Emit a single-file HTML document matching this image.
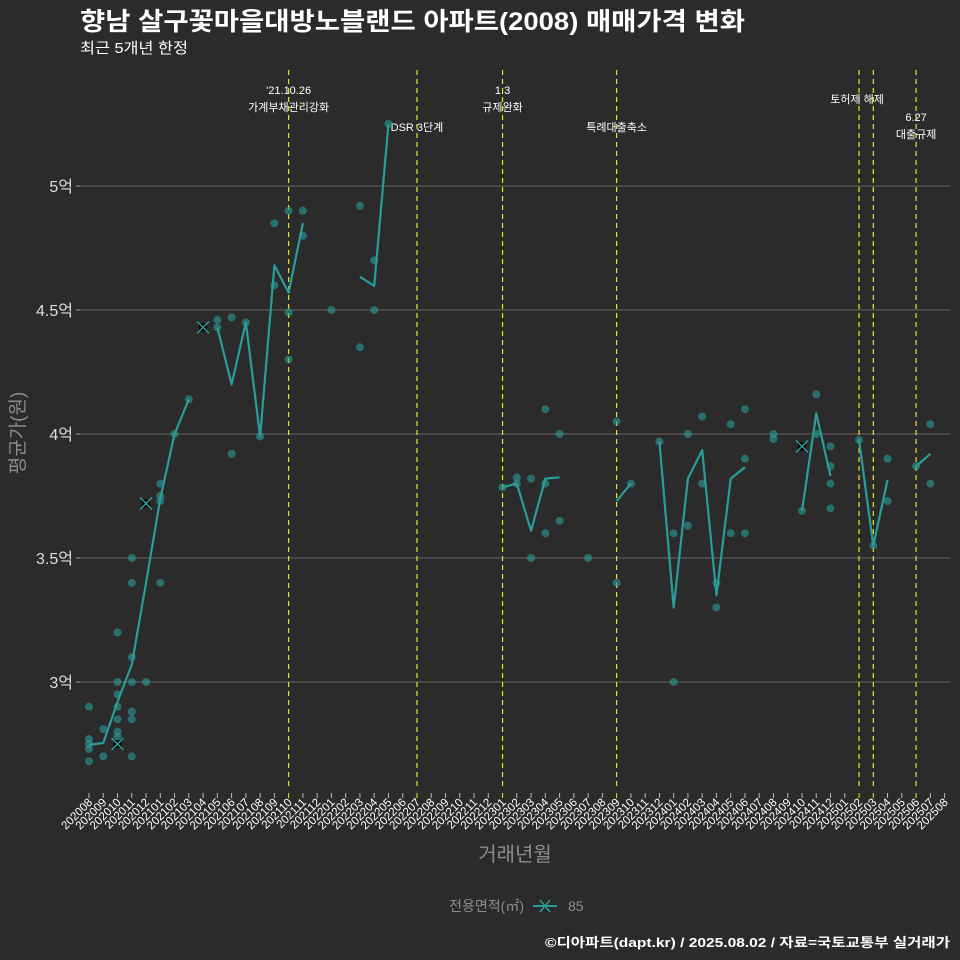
<!DOCTYPE html>
<html><head><meta charset="utf-8">
<style>
html,body{margin:0;padding:0;background:#2b2b2b;}
svg{display:block;font-family:"Liberation Sans","Noto Sans CJK KR",sans-serif;}
</style></head>
<body>
<svg id="chart" width="960" height="960" xmlns="http://www.w3.org/2000/svg">
<rect width="960" height="960" fill="#2b2b2b"/>
<text x="80" y="30" fill="#ffffff" font-size="25" font-weight="bold" textLength="665" lengthAdjust="spacingAndGlyphs">향남 살구꽃마을대방노블랜드 아파트(2008) 매매가격 변화</text>
<text x="80" y="53" fill="#ffffff" font-size="15" textLength="108" lengthAdjust="spacingAndGlyphs">최근 5개년 한정</text>
<g id="grid"></g>
<g id="vlines"></g>
<g id="series"></g>
<g id="xaxis"></g>
<text x="0" y="0" transform="translate(24,433) rotate(-90)" text-anchor="middle" fill="#8c8c8c" font-size="19">평균가(원)</text>
<text x="515" y="861" text-anchor="middle" fill="#8c8c8c" font-size="20">거래년월</text>
<g>
<text x="524" y="911" text-anchor="end" fill="#8c8c8c" font-size="14">전용면적(㎡)</text>
<line x1="533" y1="906" x2="557" y2="906" stroke="#2a9d9a" stroke-width="2"/>
<path d="M540 900 L550 912 M550 900 L540 912" stroke="#2a9d9a" stroke-width="1.5"/>
<text x="568" y="911" fill="#8c8c8c" font-size="14">85</text>
</g>
<text x="950" y="947" text-anchor="end" fill="#ffffff" font-size="13" font-weight="bold" textLength="405" lengthAdjust="spacingAndGlyphs">©디아파트(dapt.kr) / 2025.08.02 / 자료=국토교통부 실거래가</text>
</svg>
<script>
const months = [];
for (let y = 2020, m = 8; months.length < 61; ) { months.push(String(y) + String(m).padStart(2, '0')); m++; if (m > 12) { m = 1; y++; } }
const yTicks = [3, 3.5, 4, 4.5, 5];
const yTickLabels = ['3억', '3.5억', '4억', '4.5억', '5억'];
// mean line per month index (null = gap)
const lineIdx = [0,1,2,3,4,5,6,7,null,9,10,11,12,13,14,15,null,null,null,19,20,21,null,null,null,null,null,null,null,29,30,31,32,33,null,null,null,37,38,null,40,41,42,43,44,45,46,null,null,null,50,51,52,null,54,55,56,null,58,59];
const lineVal = [2.747,2.754,2.92,3.07,3.40,3.74,4.00,4.14,null,4.43,4.20,4.45,3.99,4.68,4.57,4.85,null,null,null,4.634,4.597,5.25,null,null,null,null,null,null,null,3.785,3.80,3.61,3.82,3.825,null,null,null,3.73,3.80,null,3.97,3.30,3.82,3.935,3.35,3.82,3.866,null,null,null,3.69,4.083,3.83,null,3.976,3.55,3.815,null,3.87,3.92];
const ptIdx = [0,0,0,0,0,1,1,2,2,2,2,2,2,2,3,3,3,3,3,3,3,4,5,5,5,5,6,7,9,9,10,10,11,12,13,13,14,14,14,15,15,17,19,19,20,20,21,29,30,30,31,31,32,32,32,33,33,35,37,37,38,40,41,41,42,42,43,43,44,44,45,45,46,46,46,48,48,50,51,51,52,52,52,52,54,55,56,56,58,59,59];
const ptVal = [2.90,2.77,2.75,2.73,2.68,2.81,2.70,3.20,3.00,2.95,2.90,2.85,2.80,2.78,3.50,3.40,3.10,3.00,2.88,2.85,2.70,3.00,3.80,3.75,3.73,3.40,4.00,4.14,4.46,4.43,4.47,3.92,4.45,3.99,4.85,4.60,4.90,4.49,4.30,4.90,4.80,4.50,4.92,4.35,4.70,4.50,5.25,3.785,3.825,3.80,3.82,3.50,4.10,3.80,3.60,4.00,3.65,3.50,4.05,3.40,3.80,3.97,3.60,3.00,4.00,3.63,4.07,3.80,3.30,3.40,4.04,3.60,4.10,3.90,3.60,4.00,3.98,3.69,4.16,4.00,3.95,3.87,3.80,3.70,3.976,3.55,3.90,3.73,3.87,4.04,3.80];
const xIdx = [2,4,8,50];
const xVal = [2.75,3.72,4.43,3.95];
const eventIdx = [14,23,29,37,54,55,58];
const eventLabels = [["'21.10.26","가계부채관리강화"],["DSR 3단계"],["1.3","규제완화"],["특례대출축소"],["토허제 해제"],[],["6.27","대출규제"]];
const eventLabelY = [[94,111],[131],[94,111],[131],[103],[],[121,138]];
const eventLabelDx = [0,0,0,0,-2,0,0];

const NS = 'http://www.w3.org/2000/svg';
const X = i => 89 + i * 14.26;
const Y = v => 186 + (5 - v) * 248;
function mk(tag, attrs, parent) { const e = document.createElementNS(NS, tag); for (const k in attrs) e.setAttribute(k, attrs[k]); parent.appendChild(e); return e; }
const grid = document.getElementById('grid');
yTicks.forEach((v, k) => {
  const l = mk('line', {x1: 80, x2: 950, y1: Y(v), y2: Y(v), stroke: '#666', 'stroke-width': 1}, grid);
  
  
  const t = mk('line', {x1: 76, x2: 80, y1: Y(v), y2: Y(v), stroke: '#999'}, grid);
  
  
  const tx = mk('text', {x: 73, y: Y(v) + 6, 'text-anchor': 'end', fill: '#dddddd', 'font-size': 16}, grid);
  tx.textContent = yTickLabels[k];
  
  
});
const vl = document.getElementById('vlines');
eventIdx.forEach((i, k) => {
  const l = mk('line', {x1: X(i), x2: X(i), y1: 70, y2: 790, stroke: '#e6e619', 'stroke-width': 1.2, 'stroke-dasharray': '5 4'}, vl);
  
  
  eventLabels[k].forEach((s, j) => {
    const t = mk('text', {x: X(i) + eventLabelDx[k], y: eventLabelY[k][j], 'text-anchor': 'middle', fill: '#ffffff', 'font-size': 11}, vl);
    t.textContent = s;
    
    
  });
});
const ser = document.getElementById('series');
ptIdx.forEach((i, k) => {
  const c = mk('circle', {cx: X(i), cy: Y(ptVal[k]), r: 4, fill: '#2a9d9a', 'fill-opacity': 0.6}, ser);
  
  
});
let seg = [];
function flush() {
  if (seg.length > 1) {
    const p = mk('polyline', {points: seg.join(' '), fill: 'none', stroke: '#2a9d9a', 'stroke-width': 2.2, 'stroke-linejoin': 'round'}, ser);
    
    
  }
  seg = [];
}
lineIdx.forEach((i, k) => { if (i === null || lineVal[k] === null) { flush(); } else { seg.push(X(i) + ',' + Y(lineVal[k])); } });
flush();
xIdx.forEach((i, k) => {
  const x = X(i), y = Y(xVal[k]);
  const r = mk('rect', {x: x - 4, y: y - 4, width: 8, height: 8, fill: '#000'}, ser);
  
  
  const p = mk('path', {d: `M${x-6} ${y-6} L${x+6} ${y+6} M${x+6} ${y-6} L${x-6} ${y+6}`, stroke: '#2a9d9a', 'stroke-width': 1.5}, ser);
  
  
});
const xa = document.getElementById('xaxis');
months.forEach((m, i) => {
  const t = mk('line', {x1: X(i), x2: X(i), y1: 793, y2: 798, stroke: eventIdx.includes(i) ? '#e6e619' : '#bbb'}, xa);
  
  
  const tx = mk('text', {x: 0, y: 0, transform: `translate(${X(i) + 4},${803}) rotate(-45)`, 'text-anchor': 'end', fill: '#ffffff', 'font-size': 11.5}, xa);
  tx.textContent = m;
  
  
});
</script>
</body></html>
